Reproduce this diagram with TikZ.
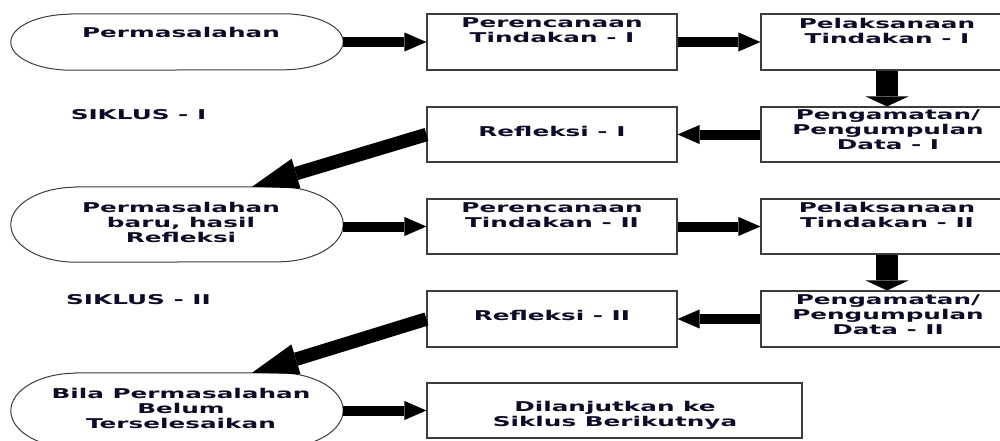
\documentclass[tikz,border=0pt]{standalone}
\usepackage{fontspec}
\newfontfamily\dfont{DejaVu Sans}[FakeStretch=1.83]
\usetikzlibrary{arrows.meta}
\definecolor{txt}{RGB}{12,12,40}
\definecolor{edge}{RGB}{60,60,60}
\tikzset{
  box/.style={draw=edge, line width=1.1pt, fill=white, inner sep=0pt, minimum height=55pt},
  oval/.style={inner sep=0pt, minimum width=332pt},
  ovalline/.style={draw=edge, line width=1pt},
  lbl/.style={font=\dfont\bfseries\fontsize{13.5}{15}\selectfont, text=txt, align=center, inner sep=0pt},
  harrow/.style={line width=10pt, -{Triangle[length=22pt,width=19pt,line width=0pt]}},
  varrow/.style={line width=22pt, -{Triangle[length=10pt,width=43pt,line width=0pt]}},
  darrow/.style={line width=13.5pt, -{Triangle[length=46pt,width=31pt,line width=0pt]}},
}
\begin{document}
\begin{tikzpicture}[x=1pt,y=1pt]
\clip (0,0) rectangle (1000,440);
\fill[white] (0,0) rectangle (1000,440);

% ovals
\node[oval, minimum height=56pt] (e1) at (177,398) {};
\node[oval, minimum height=75pt] (e2) at (177,215.5) {};
\node[oval, minimum height=75pt] (e3) at (177,29.5) {};
\draw[ovalline] ([xshift=60pt]e1.north west) -- ([xshift=-60pt]e1.north east)
  arc[start angle=90, end angle=-90, x radius=60pt, y radius=28pt]
  -- ([xshift=60pt]e1.south west)
  arc[start angle=270, end angle=90, x radius=60pt, y radius=28pt] -- cycle;
\draw[ovalline] ([xshift=65pt]e2.north west) -- ([xshift=-65pt]e2.north east)
  arc[start angle=90, end angle=-90, x radius=65pt, y radius=37.5pt]
  -- ([xshift=65pt]e2.south west)
  arc[start angle=270, end angle=90, x radius=65pt, y radius=37.5pt] -- cycle;
\draw[ovalline] ([xshift=65pt]e3.north west) -- ([xshift=-65pt]e3.north east)
  arc[start angle=90, end angle=-90, x radius=65pt, y radius=37.5pt]
  -- ([xshift=65pt]e3.south west)
  arc[start angle=270, end angle=90, x radius=65pt, y radius=37.5pt] -- cycle;

% boxes
\node[box, minimum width=250pt, minimum height=56pt] (p1) at (552,398) {};
\node[box, minimum width=252pt, minimum height=56pt] (l1) at (887,398) {};
\node[box, minimum width=252pt] (g1) at (887,305.5) {};
\node[box, minimum width=250pt] (r1) at (552,305.5) {};
\node[box, minimum width=250pt] (p2) at (552,213.5) {};
\node[box, minimum width=252pt] (l2) at (887,213.5) {};
\node[box, minimum width=252pt, minimum height=56pt] (g2) at (887,121) {};
\node[box, minimum width=250pt, minimum height=56pt] (r2) at (552,121) {};
\node[box, minimum width=375pt] (d) at (614.5,29.5) {};

% texts
\node[lbl] (te1) at (181,408) {Permasalahan};
\node[lbl] (tp1) at (552,409.5) {Perencanaan\\Tindakan - I};
\node[lbl] (tl1) at (887,409.5) {Pelaksanaan\\Tindakan - I};
\node[lbl] (tg1) at (888,310) {Pengamatan/\\Pengumpulan\\Data - I};
\node[lbl] (tr1) at (552,309) {Refleksi - I};
\node[lbl] (s1) at (138.5,325) {SIKLUS - I};
\node[lbl] (te2) at (181,218) {Permasalahan\\baru, hasil\\Refleksi};
\node[lbl] (tp2) at (552,225) {Perencanaan\\Tindakan - II};
\node[lbl] (tl2) at (887,225) {Pelaksanaan\\Tindakan - II};
\node[lbl] (s2) at (138.5,140) {SIKLUS - II};
\node[lbl] (tg2) at (888,125) {Pengamatan/\\Pengumpulan\\Data - II};
\node[lbl] (tr2) at (552,125) {Refleksi - II};
\node[lbl] (te3) at (181,32) {Bila Permasalahan\\Belum\\Terselesaikan};
\node[lbl] (td) at (615,24.5) {Dilanjutkan ke\\Siklus Berikutnya};

% arrows
\draw[harrow] (e1.east) -- (p1.west);
\draw[harrow] (p1.east) -- (l1.west);
\draw[varrow] (l1.south) -- (g1.north);
\draw[harrow] (g1.west) -- (r1.east);
\draw[darrow] (r1.west) -- ([xshift=75pt]e2.north);
\draw[harrow] (e2.east |- p2.west) -- (p2.west);
\draw[harrow] (p2.east) -- (l2.west);
\draw[varrow] (l2.south) -- (g2.north);
\draw[harrow] (g2.west) -- (r2.east);
\draw[darrow] (r2.west) -- ([xshift=75pt]e3.north);
\draw[harrow] (e3.east) -- (d.west);
\end{tikzpicture}
\end{document}
